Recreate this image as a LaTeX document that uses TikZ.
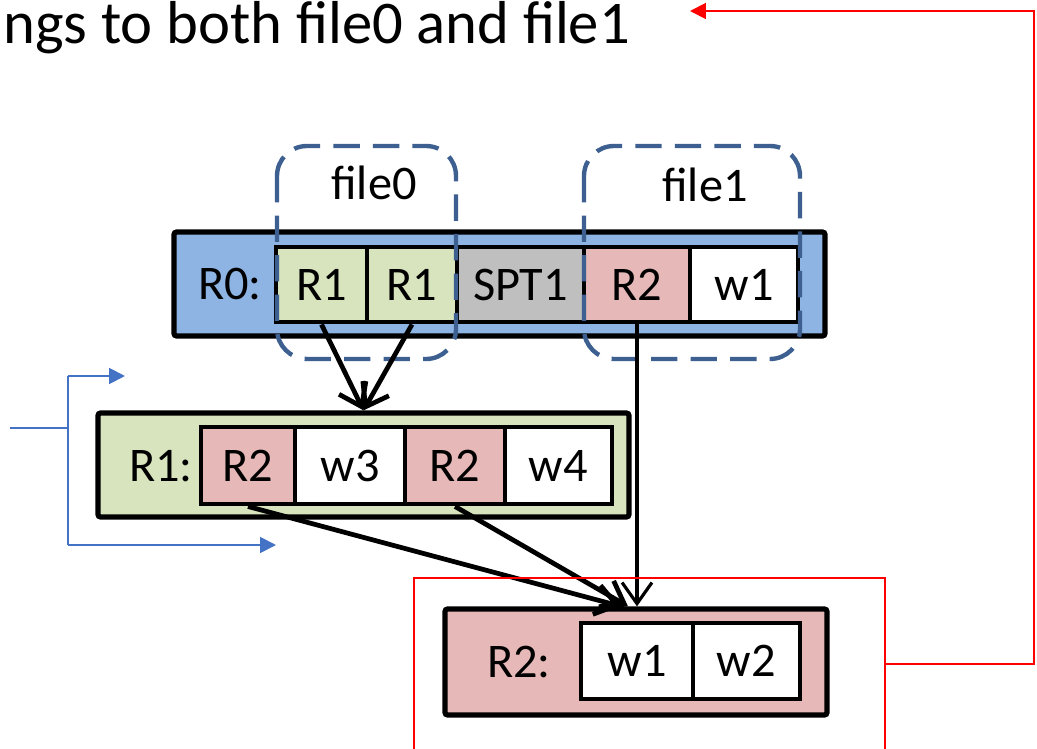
\documentclass[tikz,border=0pt]{standalone}
\usepackage{fontspec}
\setmainfont{Carlito}
\usetikzlibrary{arrows.meta,fit}

\definecolor{rootblue}{HTML}{8EB4E3}
\definecolor{refgreen}{HTML}{D7E4BD}
\definecolor{refpink}{HTML}{E6B9B8}
\definecolor{sptgray}{HTML}{BFBFBF}
\definecolor{filedash}{HTML}{3D6090}
\definecolor{bracketblue}{HTML}{4472C4}

\tikzset{
  regionbox/.style={draw=black, line width=3pt, inner sep=0pt, rounded corners=1.5pt},
  cell/.style={draw=black, line width=2.8pt, inner sep=0pt},
  lbl/.style={inner sep=0pt, font=\fontsize{27.5}{32}\selectfont},
  filebox/.style={draw=filedash, line width=2.5pt, dash pattern=on 15pt off 7.5pt, rounded corners=0.6cm},
  ptr/.style={line width=2.7pt, -{Straight Barb[length=12pt,width=17pt]}},
  redline/.style={draw=red, line width=1.1pt},
  bracket/.style={draw=bracketblue, line width=1.1pt}
}

\begin{document}
\begin{tikzpicture}[x=0.02cm,y=-0.02cm]
\useasboundingbox (0,0) rectangle (1037,749);

% note on top
\node[anchor=base west, inner sep=0pt, font=\fontsize{34.5}{40}\selectfont] (note) at (3,44) {ngs to both file0 and file1};

% R0
\node[regionbox, fill=rootblue, fit={(174,232) (825,336)}] (r0box) {};
\node[lbl] (r0lbl) at (230,284) {R0:};
\node[cell, fill=refgreen, fit={(276,247) (367,322)}, label={[lbl]center:R1}] (r0a) {};
\node[cell, fill=refgreen, fit={(367,247) (457,322)}, label={[lbl]center:R1}] (r0b) {};
\node[cell, fill=sptgray, fit={(457,247) (584,322)}, label={[lbl]center:SPT1}] (r0c) {};
\node[cell, fill=refpink, fit={(584,247) (690,322)}, label={[lbl]center:R2}] (r0d) {};
\node[cell, fill=white, fit={(690,247) (798,322)}, label={[lbl]center:w1}] (r0e) {};

% files
\draw[filebox] (277,146) rectangle (456,359);
\draw[filebox] (584,146) rectangle (800,359);
\node[lbl] (f0lbl) at (374,183) {file0};
\node[lbl] (f1lbl) at (705,185) {file1};

% R1
\node[regionbox, fill=refgreen, fit={(98,413) (629,517)}] (r1box) {};
\node[lbl] (r1lbl) at (161,466) {R1:};
\node[cell, fill=refpink, fit={(201,427) (295,504)}, label={[lbl]center:R2}] (r1a) {};
\node[cell, fill=white, fit={(295,427) (405,504)}, label={[lbl]center:w3}] (r1b) {};
\node[cell, fill=refpink, fit={(405,427) (505,504)}, label={[lbl]center:R2}] (r1c) {};
\node[cell, fill=white, fit={(505,427) (612,504)}, label={[lbl]center:w4}] (r1d) {};

% R2
\node[regionbox, fill=refpink, fit={(445,609) (827,715)}] (r2box) {};
\node[lbl] (r2lbl) at (519,662) {R2:};
\node[cell, fill=white, fit={(581,623) (693,699)}, label={[lbl]center:w1}] (r2a) {};
\node[cell, fill=white, fit={(693,623) (800,699)}, label={[lbl]center:w2}] (r2b) {};

% pointers
\draw[ptr] (r0a.south) -- (r1box.north);
\draw[ptr] (r0b.south) -- (r1box.north);
\draw[ptr, line width=1.8pt] (r0d.south) -- (r0d.south |- r2box.north);
\draw[ptr] (r1a.south) -- ([xshift=-0.3cm]r2box.north);
\draw[ptr] (r1c.south) -- ([xshift=-0.16cm]r2box.north);

% red frame and link
\coordinate (framebl) at (414,749);
\coordinate (framebr) at (885,749);
\coordinate (framee) at (885,664);
\coordinate (turnb) at (1034,664);
\coordinate (turnt) at (1034,11);
\coordinate (notetip) at (690,11);
\draw[redline] (framebl) |- (885,578) -- (framebr);
\draw[redline, -{Triangle[length=9pt,width=9pt]}] (framee) -- (turnb) -- (turnt) -- (notetip);

% blue bracket
\coordinate (brin) at (10,428);
\coordinate (brmid) at (68,428);
\coordinate (brtop) at (68,376);
\coordinate (brbot) at (68,545);
\coordinate (brtopend) at (125,376);
\coordinate (brbotend) at (276,545);
\draw[bracket] (brin) -- (brmid);
\draw[bracket] (brtop) -- (brbot);
\draw[bracket, -{Triangle[length=9pt,width=9pt]}] (brtop) -- (brtopend);
\draw[bracket, -{Triangle[length=9pt,width=9pt]}] (brbot) -- (brbotend);
\end{tikzpicture}
\end{document}
